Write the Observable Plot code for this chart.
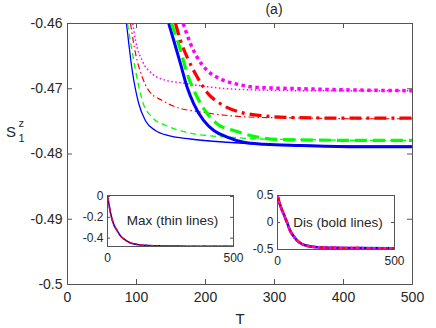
<!DOCTYPE html>
<html><head><meta charset="utf-8">
<script src="https://cdn.jsdelivr.net/npm/d3@7"></script>
<script src="https://cdn.jsdelivr.net/npm/@observablehq/plot@0.6"></script>
<style>
body{margin:0;background:#fff;font-family:"Liberation Sans",Arial,sans-serif;}
#wrap{position:relative;width:436px;height:328px;overflow:hidden;background:#fff;}
#wrap svg{position:absolute;background:transparent !important;font-family:"Liberation Sans",Arial,sans-serif;}
</style></head><body><div id="wrap"></div>
<script>
// ---------- data ----------
// axis ticks
const xTicks = [0, 100, 200, 300, 400, 500];
const yTicks = [-0.5, -0.49, -0.48, -0.47, -0.46];
// main panel: thin lines (Max)
const tMaxBlue = [85.5, 93.8, 103.3, 113, 127.5, 146.8, 178, 231, 280, 350, 420, 500];
const sMaxBlue = [-0.46, -0.4672, -0.4723, -0.4749, -0.4764, -0.4772, -0.4777, -0.4782, -0.4785, -0.4787, -0.4788, -0.4788];
const tMaxGreen = [87, 98.6, 108.3, 122.8, 142, 166, 183, 231.5, 280, 350, 420, 500];
const sMaxGreen = [-0.46, -0.4672, -0.4718, -0.4744, -0.4756, -0.4765, -0.4769, -0.4774, -0.4777, -0.4778, -0.4779, -0.4779];
const tMaxRed = [91.3, 98.6, 108.3, 117.8, 137.2, 166.2, 183, 231.5, 280, 350, 420, 500];
const sMaxRed = [-0.46, -0.4646, -0.4682, -0.4703, -0.4718, -0.4731, -0.4734, -0.4741, -0.4744, -0.4745, -0.4746, -0.4746];
const tMaxMag = [94.6, 98.6, 108.3, 122.8, 142, 166.2, 183, 231.5, 280, 350, 420, 500];
const sMaxMag = [-0.46, -0.4626, -0.4657, -0.4677, -0.4687, -0.4691, -0.4694, -0.47, -0.4702, -0.4703, -0.4703, -0.4703];
// main panel: bold lines (Dis)
const tDisBlue = [146.8, 154, 163.8, 173.5, 183, 197.5, 212, 231.5, 255.5, 284.5, 337.7, 420, 500];
const sDisBlue = [-0.46, -0.4626, -0.4662, -0.4698, -0.4723, -0.4749, -0.4764, -0.4774, -0.4782, -0.4785, -0.4787, -0.4789, -0.4789];
const tDisGreen = [150.7, 163.8, 173.5, 188, 202.5, 217, 241, 275, 313.5, 400, 500];
const sDisGreen = [-0.46, -0.4641, -0.4677, -0.4713, -0.4738, -0.4754, -0.4764, -0.4774, -0.4778, -0.4779, -0.4779];
const tDisRed = [156.5, 163.8, 173.5, 188, 202.5, 221.7, 250.7, 279.7, 323, 400, 500];
const sDisRed = [-0.46, -0.4626, -0.4652, -0.4682, -0.4706, -0.4723, -0.4736, -0.4741, -0.4744, -0.4745, -0.4745];
const tDisMag = [167.7, 178.3, 188, 202.5, 221.7, 246, 275, 337.7, 420, 500];
const sDisMag = [-0.46, -0.4631, -0.4652, -0.4672, -0.4685, -0.4693, -0.4698, -0.47, -0.4702, -0.4703];
// inset "Max (thin lines)"
const insetMaxT = [0, 6, 13, 25, 39, 52, 66, 85, 105, 130, 160, 200, 300, 400, 500];
const insetMaxS = [0, -0.08, -0.17, -0.27, -0.33, -0.38, -0.41, -0.44, -0.455, -0.465, -0.47, -0.474, -0.477, -0.478, -0.478];
const insetMaxYTicks = [0, -0.2, -0.4];
// inset "Dis (bold lines)"
const insetDisT = [0, 10, 26, 40, 54, 70, 83, 105, 126, 169, 250, 350, 500];
const insetDisS = [0.5, 0.34, 0.16, 0.01, -0.15, -0.26, -0.33, -0.4, -0.43, -0.457, -0.47, -0.475, -0.477];
const insetDisYTicks = [0.5, 0, -0.5];
const insetXTicks = [0, 500];
// labels
const titleText = "(a)";
const xLabel = "T";
const insetMaxLabel = "Max (thin lines)";
const insetDisLabel = "Dis (bold lines)";

// ---------- helpers ----------
const fmt = d => String(+d.toFixed(2));
const rows = (t, s) => t.map((T, i) => ({T, S: s[i]}));
const txt = "#262626", axc = "#555";
const BLUE = "#0000ff", GREEN = "#00ff00", RED = "#ff0000", MAG = "#ff00ff";

const wrap = document.getElementById("wrap");

// ---------- main plot ----------
const W = 436, H = 328, mL = 67, mR = 24, mT = 23, mB = 44;
const iH = H - mT - mB, iW = W - mL - mR;
const series = [
  [tMaxBlue, sMaxBlue, BLUE, 1.3, null],
  [tMaxGreen, sMaxGreen, GREEN, 1.3, "6,4"],
  [tMaxRed, sMaxRed, RED, 1.2, "6,3,1.5,3"],
  [tMaxMag, sMaxMag, MAG, 1.5, "1.5,2.5"],
  [tDisBlue, sDisBlue, BLUE, 3, null],
  [tDisGreen, sDisGreen, GREEN, 3.2, "12,6"],
  [tDisRed, sDisRed, RED, 3.2, "12,5,3,5"],
  [tDisMag, sDisMag, MAG, 3.5, "3.5,3.5"]
];
const main = Plot.plot({
  width: W, height: H, marginLeft: mL, marginRight: mR, marginTop: mT, marginBottom: mB,
  x: {domain: [0, 500]},
  y: {domain: [-0.5, -0.46]},
  marks: [
    Plot.frame({stroke: axc}),
    Plot.tickX(xTicks, {x: d => d, insetTop: iH - 5, stroke: axc}),
    Plot.tickX(xTicks, {x: d => d, insetBottom: iH - 5, stroke: axc}),
    Plot.tickY(yTicks, {y: d => d, insetRight: iW - 5, stroke: axc}),
    Plot.tickY(yTicks, {y: d => d, insetLeft: iW - 5, stroke: axc}),
    Plot.axisX({ticks: xTicks, tickSize: 0, tickPadding: 8, tickFormat: fmt, fontSize: 14, color: txt, label: null}),
    Plot.axisY({ticks: yTicks, tickSize: 0, tickPadding: 5, tickFormat: fmt, fontSize: 14, color: txt, label: null}),
    ...series.map(([t, s, c, w, dash]) => Plot.line(rows(t, s), {
      x: "T", y: "S", stroke: c, strokeWidth: w, strokeDasharray: dash,
      strokeLinecap: "butt", curve: "monotone-x", clip: true
    }))
  ]
});
main.style.left = "0px"; main.style.top = "0px";
wrap.appendChild(main);

// ---------- insets ----------
function inset({left, top, fw, fh, yDomain, yTicks, data, lines, label}) {
  const iml = 30, imr = 14, imt = 6, imb = 22;
  const p = Plot.plot({
    width: fw + iml + imr, height: fh + imt + imb,
    marginLeft: iml, marginRight: imr, marginTop: imt, marginBottom: imb,
    x: {domain: [0, 500]},
    y: {domain: yDomain},
    marks: [
      Plot.frame({fill: "white", stroke: axc}),
      Plot.tickY(yTicks, {y: d => d, insetRight: fw - 3, stroke: axc}),
      Plot.tickY(yTicks, {y: d => d, insetLeft: fw - 3, stroke: axc}),
      Plot.axisX({ticks: insetXTicks, tickSize: 0, tickPadding: 7, tickFormat: fmt, fontSize: 12, color: txt, label: null}),
      Plot.axisY({ticks: yTicks, tickSize: 0, tickPadding: 4, tickFormat: fmt, fontSize: 12, color: txt, label: null}),
      Plot.text([label], {text: d => d, frameAnchor: "middle", dx: 2, fontSize: 13.5, fill: txt}),
      ...lines.map(([c, w, dash]) => Plot.line(data, {
        x: "T", y: "S", stroke: c, strokeWidth: w, strokeDasharray: dash,
        strokeLinecap: "butt", curve: "monotone-x", clip: true
      }))
    ]
  });
  p.style.left = (left - iml) + "px"; p.style.top = (top - imt) + "px";
  wrap.appendChild(p);
}
inset({left: 107, top: 195, fw: 126, fh: 51, yDomain: [-0.48, 0.01], yTicks: insetMaxYTicks,
  data: rows(insetMaxT, insetMaxS), label: insetMaxLabel,
  lines: [[BLUE, 1.6, null], [RED, 1.6, "5,2,1.5,2"]]});
inset({left: 277, top: 195, fw: 117, fh: 54, yDomain: [-0.5, 0.5], yTicks: insetDisYTicks,
  data: rows(insetDisT, insetDisS), label: insetDisLabel,
  lines: [[BLUE, 2.6, null], [RED, 2.6, "6,2,2,2"], [MAG, 2.6, "2.5,3"]]});

// ---------- text overlay ----------
const ov = d3.select(wrap).append("svg").attr("width", W).attr("height", H)
  .style("left", "0px").style("top", "0px").style("pointer-events", "none");
ov.append("text").attr("x", 274).attr("y", 14).attr("text-anchor", "middle")
  .attr("font-size", 14).attr("fill", txt).text(titleText);
ov.append("text").attr("x", 240).attr("y", 324).attr("text-anchor", "middle")
  .attr("font-size", 15).attr("fill", txt).text(xLabel);
ov.append("text").attr("x", 6).attr("y", 137).attr("font-size", 15).attr("fill", txt).text("S");
ov.append("text").attr("x", 18.5).attr("y", 127).attr("font-size", 11).attr("fill", txt).text("z");
ov.append("text").attr("x", 18.5).attr("y", 142).attr("font-size", 11).attr("fill", txt).text("1");
</script></body></html>
